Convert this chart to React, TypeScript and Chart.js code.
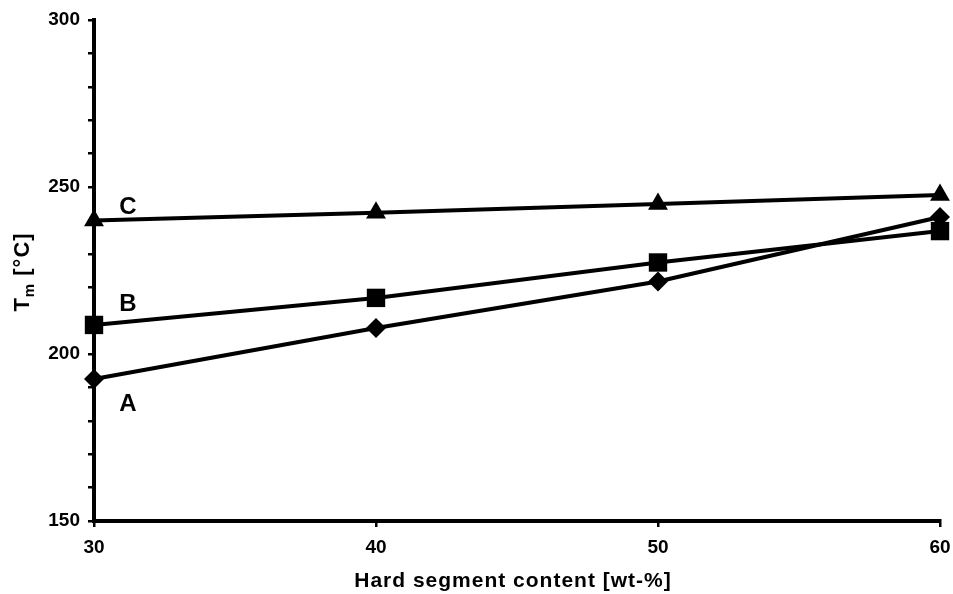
import React, { useEffect, useRef } from "react";
import { Chart, registerables } from "chart.js";

Chart.register(...registerables);

const contents = [30, 40, 50, 60];
const seriesA = [192.5, 207.8, 221.7, 241.0];
const seriesB = [208.7, 216.8, 227.4, 236.8];
const seriesC = [240.0, 242.3, 244.9, 247.6];
const seriesNames = ["A", "B", "C"];
// label anchor positions in data units
const labelX = [31.2, 31.2, 31.2];
const labelY = [185, 215, 244];

const FONT = "'Liberation Sans', Arial, Helvetica, sans-serif";

const labelsPlugin = {
  id: "customText",
  afterDraw(chart: any) {
    const ctx = chart.ctx;
    const xs = chart.scales.x;
    const ys = chart.scales.y;
    ctx.save();
    ctx.fillStyle = "#000";
    ctx.font = `bold 24px ${FONT}`;
    ctx.textAlign = "center";
    ctx.textBaseline = "middle";
    seriesNames.forEach((n, i) => {
      ctx.fillText(n, xs.getPixelForValue(labelX[i]), ys.getPixelForValue(labelY[i]));
    });
    // x title
    ctx.font = `bold 21px ${FONT}`;
    (ctx as any).letterSpacing = "1px";
    ctx.textBaseline = "alphabetic";
    ctx.fillText("Hard segment content [wt-%]", 513, 587);
    // y title
    ctx.translate(29, 272);
    ctx.rotate(-Math.PI / 2);
    const big = `bold 22px ${FONT}`;
    const small = `bold 15px ${FONT}`;
    ctx.font = big;
    const wT = ctx.measureText("T").width;
    ctx.font = small;
    const wm = ctx.measureText("m").width;
    ctx.font = big;
    const wRest = ctx.measureText(" [°C]").width;
    const total = wT + wm + wRest;
    let x0 = -total / 2;
    ctx.textAlign = "left";
    ctx.font = big;
    ctx.fillText("T", x0, 0);
    x0 += wT;
    ctx.font = small;
    ctx.fillText("m", x0, 5);
    x0 += wm;
    ctx.font = big;
    ctx.fillText(" [°C]", x0, 0);
    ctx.restore();
  },
};

export default function App() {
  const ref = useRef<HTMLCanvasElement | null>(null);
  useEffect(() => {
    if (!ref.current) return;
    const mk = (vals: number[]) => contents.map((x, i) => ({ x, y: vals[i] }));
    const common = {
      borderColor: "#000",
      backgroundColor: "#000",
      borderWidth: 4,
      pointBorderColor: "#000",
      pointBackgroundColor: "#000",
      pointBorderWidth: 0,
      tension: 0,
      fill: false,
      clip: false as any,
    };
    const chart = new Chart(ref.current, {
      type: "line",
      data: {
        datasets: [
          { ...common, label: seriesNames[0], data: mk(seriesA), pointStyle: "rectRot", pointRadius: 10 },
          { ...common, label: seriesNames[1], data: mk(seriesB), pointStyle: "rect", pointRadius: 13 },
          { ...common, label: seriesNames[2], data: mk(seriesC), pointStyle: "triangle", pointRadius: 11.5 },
        ],
      },
      options: {
        responsive: false,
        animation: false,
        layout: { padding: { top: 20, right: 13, left: 0, bottom: 0 } },
        plugins: { legend: { display: false }, tooltip: { enabled: false } },
        scales: {
          x: {
            type: "linear",
            min: 30,
            max: 60,
            afterFit: (s: any) => { s.height = 73; s.paddingLeft = 0; s.paddingRight = 0; },
            ticks: {
              stepSize: 10,
              color: "#000",
              font: { family: FONT, size: 19, weight: "bold" },
              padding: 9,
              maxRotation: 0,
            },
            grid: { drawOnChartArea: false, drawTicks: true, tickLength: 6, color: "#000", lineWidth: 2.5 },
            border: { color: "#000", width: 4 },
          },
          y: {
            min: 150,
            max: 300,
            afterFit: (s: any) => { s.width = 94; s.paddingTop = 0; s.paddingBottom = 0; },
            ticks: {
              stepSize: 10,
              color: "#000",
              font: { family: FONT, size: 19, weight: "bold" },
              padding: 8,
              callback: (v: any) => (Number(v) % 50 === 0 ? String(v) : ""),
            },
            grid: { drawOnChartArea: false, drawTicks: true, tickLength: 6, color: "#000", lineWidth: 2.5 },
            border: { color: "#000", width: 4 },
          },
        },
      },
      plugins: [labelsPlugin],
    });
    return () => chart.destroy();
  }, []);
  return (
    <div style={{ position: "absolute", left: 0, top: 0, width: 953, height: 594, background: "#fff" }}>
      <canvas ref={ref} width={953} height={594} />
    </div>
  );
}
